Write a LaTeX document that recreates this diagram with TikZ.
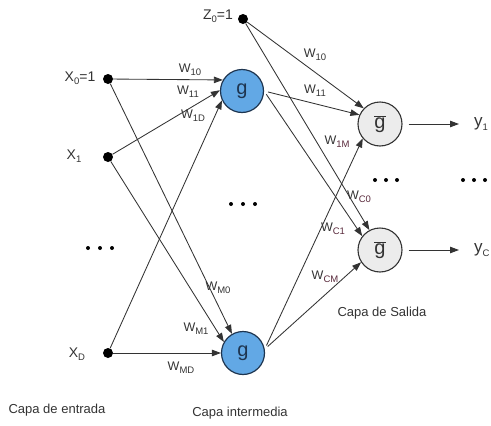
\documentclass[tikz,border=0pt]{standalone}
\usepackage{fontspec}
\setmainfont{Liberation Sans}
\usetikzlibrary{arrows.meta}
\definecolor{ink}{HTML}{333333}
\definecolor{hidfill}{HTML}{62A8E5}
\definecolor{hidline}{HTML}{1E3550}
\definecolor{outfill}{HTML}{ECECEC}
\definecolor{subred}{HTML}{5A2A3C}
% small lowered index in text mode
\newcommand\lowidx[1]{\raisebox{-0.45ex}{\fontsize{9.5}{9.5}\selectfont #1}}
\begin{document}
\begin{tikzpicture}[x=1pt,y=-1pt,
  conn/.style={draw=ink, line width=0.85pt, -{Triangle[length=9pt,width=6.5pt]}},
  inp/.style={circle, fill=black, inner sep=0pt, minimum size=10pt},
  hid/.style={circle, draw=hidline, fill=hidfill, line width=1.2pt, minimum size=43pt,
    inner sep=0pt, text=hidline, font=\fontsize{20}{20}\selectfont},
  outn/.style={circle, draw=ink, fill=outfill, line width=1.1pt, minimum size=44pt,
    inner sep=0pt, text=ink, font=\fontsize{20}{20}\selectfont},
  wl/.style={font=\fontsize{12.5}{12.5}\selectfont, text=ink, inner sep=0pt},
  xl/.style={font=\fontsize{14}{14}\selectfont, text=ink, inner sep=0pt},
  yl/.style={font=\fontsize{17}{17}\selectfont, text=ink, inner sep=1pt, anchor=west},
  caption/.style={font=\fontsize{13}{13}\selectfont, text=ink},
  ellip/.style={fill=black}
]
\useasboundingbox (0,0) rectangle (491,426);

% input layer
\node[inp] (x0) at (108,79) {};
\node[inp] (x1) at (108,157) {};
\node[inp] (xD) at (108,353) {};
\node[xl] (lx0) at (80,78) {X\lowidx{0}=1};
\node[xl] (lx1) at (74,156) {X\lowidx{1}};
\node[xl] (lxD) at (77,354) {X\lowidx{D}};

% bias of the hidden layer
\node[inp] (z0) at (243,19) {};
\node[xl] (lz0) at (218,16) {Z\lowidx{0}=1};

% hidden layer
\node[hid] (gt) at (242,91) {g};
\node[hid] (gb) at (243,353) {g};

% output layer
\node[outn] (gbt) at (380,124) {$\overline{\mbox{g}}$};
\node[outn] (gbb) at (380,250) {$\overline{\mbox{g}}$};
\node[yl] (y1) at (473,124) {y\lowidx{1}};
\node[yl] (yC) at (473,250) {y\lowidx{C}};

% input -> hidden
\draw[conn] (x0) -- (gt.150);
\draw[conn] (x1) -- (gt.178);
\draw[conn] (xD) -- (gt.205);
\draw[conn] (x0) -- (gb.120);
\draw[conn] (x1) -- (gb.150);
\draw[conn] (xD) -- (gb.west);

% hidden -> output
\draw[conn] (z0) -- (gbt.136);
\draw[conn] (z0) -- (gbb.118);
\draw[conn, shorten <=4pt] (gt.east) -- (gbt.156);
\draw[conn, shorten <=4pt] (gt.east) -- (gbb.142);
\draw[conn, shorten <=4pt] (gb.10) -- (gbt.220);
\draw[conn, shorten <=4pt] (gb.10) -- (gbb.213);

% outputs
\draw[conn, shorten <=6pt, shorten >=14pt] (gbt) -- (y1);
\draw[conn, shorten <=6pt, shorten >=14pt] (gbb) -- (yC);

% weight labels
\node[wl] (w10a) at (190,70) {W\lowidx{10}};
\node[wl] (w11a) at (188,92) {W\lowidx{11}};
\node[wl] (w1Da) at (193,116) {W\lowidx{1D}};
\node[wl] (wM0)  at (218,288) {W\lowidx{M0}};
\node[wl] (wM1)  at (196,329) {W\lowidx{M1}};
\node[wl] (wMD)  at (181,368) {W\lowidx{MD}};
\node[wl] (w10b) at (315,55) {W\lowidx{10}};
\node[wl] (w11b) at (315,91) {W\lowidx{11}};
\node[wl] (w1M)  at (337,142) {W\lowidx{\textcolor{subred}{1M}}};
\node[wl] (wC0)  at (359,197) {W\lowidx{\textcolor{subred}{C0}}};
\node[wl] (wC1)  at (333,229) {W\lowidx{\textcolor{subred}{C1}}};
\node[wl] (wCM)  at (325,277) {W\lowidx{\textcolor{subred}{CM}}};

% ellipses
\foreach \px in {88,100,112} \fill[ellip] (\px,248) circle (2pt);
\foreach \px in {231,243,255} \fill[ellip] (\px,204) circle (2pt);
\foreach \px in {375,386,397} \fill[ellip] (\px,180) circle (2pt);
\foreach \px in {463,474,485} \fill[ellip] (\px,180) circle (2pt);

% layer captions
\node[caption] (c1) at (57,410) {Capa de entrada};
\node[caption] (c2) at (240,413) {Capa intermedia};
\node[caption] (c3) at (382,313) {Capa de Salida};
\end{tikzpicture}
\end{document}
